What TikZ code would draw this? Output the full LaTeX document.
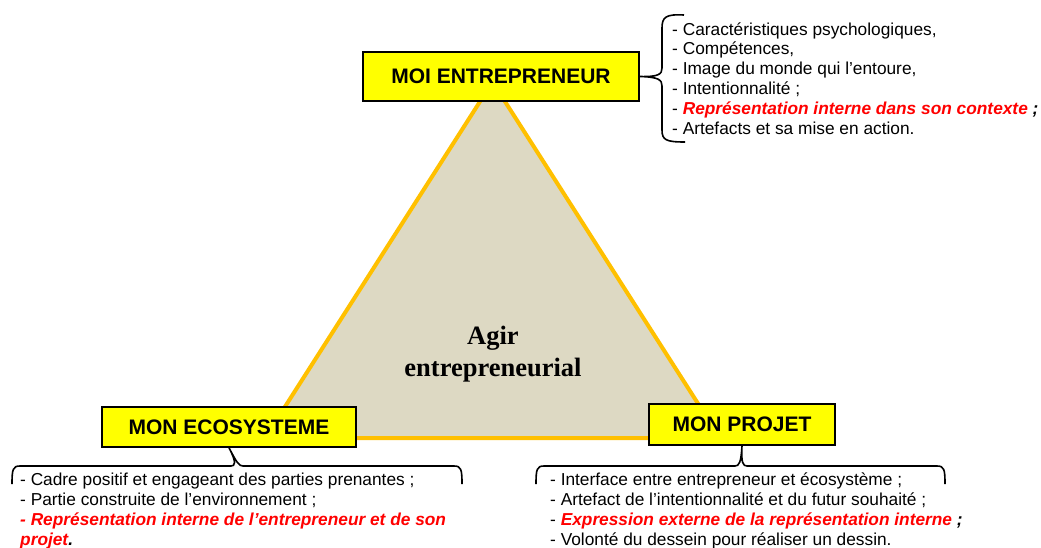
\documentclass[tikz,border=0pt]{standalone}
\usepackage{fontspec}
\setmainfont{Liberation Sans}
\newfontfamily\timesf{Liberation Serif}
\definecolor{trifill}{HTML}{DDD9C3}
\definecolor{triedge}{HTML}{FFC000}
\definecolor{boxyellow}{HTML}{FFFF00}
\definecolor{redtxt}{HTML}{FF0000}
\begin{document}
\begin{tikzpicture}[x=1pt,y=-1pt,
  titlebox/.style={draw=black, line width=1.5pt, fill=boxyellow, inner sep=0pt,
    font=\fontsize{21}{24}\selectfont\bfseries},
  listline/.style={anchor=base west, inner sep=0pt, font=\fontsize{17.3}{20}\selectfont},
  bracepath/.style={draw=black, line width=1.6pt},
  hl/.style={text=redtxt}]
\useasboundingbox (0,0) rectangle (1041,547);
% triangle
\coordinate (apex) at (492.5,82);
\coordinate (bl) at (265,438);
\coordinate (br) at (720,438);
\filldraw[fill=trifill, draw=triedge, line width=4pt, line join=miter] (apex) -- (br) -- (bl) -- cycle;
\node[font=\fontsize{26.5}{32}\selectfont\timesf\bfseries, align=center] (agir) at (493,354) {Agir\\entrepreneurial};
% boxes
\node[titlebox, minimum width=276pt, minimum height=49pt] (moi) at (501,76.5) {MOI ENTREPRENEUR};
\node[titlebox, minimum width=254pt, minimum height=40pt] (eco) at (229,427) {MON ECOSYSTEME};
\node[titlebox, minimum width=186pt, minimum height=41pt] (proj) at (742,424.5) {MON PROJET};
% top-right brace
\path[bracepath] (684,15) .. controls (666,14) and (662,17) .. (662,28) -- (662,68)
  .. controls (662,74) and (659,77) .. (moi.east)
  .. controls (659,77) and (662,80) .. (662,86) -- (662,130)
  .. controls (662,140) and (666,142) .. (685,142);
% bottom-left brace
\path[bracepath] (12,484) .. controls (12,469) and (13,466) .. (20,466) -- (231,466)
  .. controls (235,466) and (237,463) .. (eco.south)
  .. controls (237,463) and (239,466) .. (243,466) -- (454,466)
  .. controls (461,466) and (462,469) .. (462,484);
% bottom-right brace
\path[bracepath] (536,484) .. controls (536,469) and (537,466) .. (544,466) -- (735,466)
  .. controls (739,466) and (741,463) .. (proj.south)
  .. controls (741,463) and (743,466) .. (747,466) -- (937,466)
  .. controls (944,466) and (945,469) .. (945,484);
% top-right list
\node[listline] (m1) at (672,35) {- Caractéristiques psychologiques,};
\node[listline] (m2) at (672,54.8) {- Compétences,};
\node[listline] (m3) at (672,74.6) {- Image du monde qui l’entoure,};
\node[listline] (m4) at (672,94.4) {- Intentionnalité ;};
\node[listline] (m5) at (672,114.2) {- {\bfseries\itshape\color{redtxt}Représentation interne dans son contexte} {\bfseries\itshape ;}};
\node[listline] (m6) at (672,134) {- Artefacts et sa mise en action.};
% bottom-left list
\node[listline] (e1) at (20,485) {- Cadre positif et engageant des parties prenantes ;};
\node[listline] (e2) at (20,505) {- Partie construite de l’environnement ;};
\node[listline, font=\fontsize{17.3}{20}\selectfont\bfseries\itshape, text=redtxt] (e3) at (20,525) {- Représentation interne de l’entrepreneur et de son};
\node[listline, font=\fontsize{17.3}{20}\selectfont\bfseries\itshape] (e4) at (20,545) {\textcolor{redtxt}{projet}.};
% bottom-right list
\node[listline] (p1) at (550,485) {- Interface entre entrepreneur et écosystème ;};
\node[listline] (p2) at (550,505) {- Artefact de l’intentionnalité et du futur souhaité ;};
\node[listline] (p3) at (550,525) {- {\bfseries\itshape\color{redtxt}Expression externe de la représentation interne} {\bfseries\itshape ;}};
\node[listline] (p4) at (550,545) {- Volonté du dessein pour réaliser un dessin.};
\end{tikzpicture}
\end{document}
